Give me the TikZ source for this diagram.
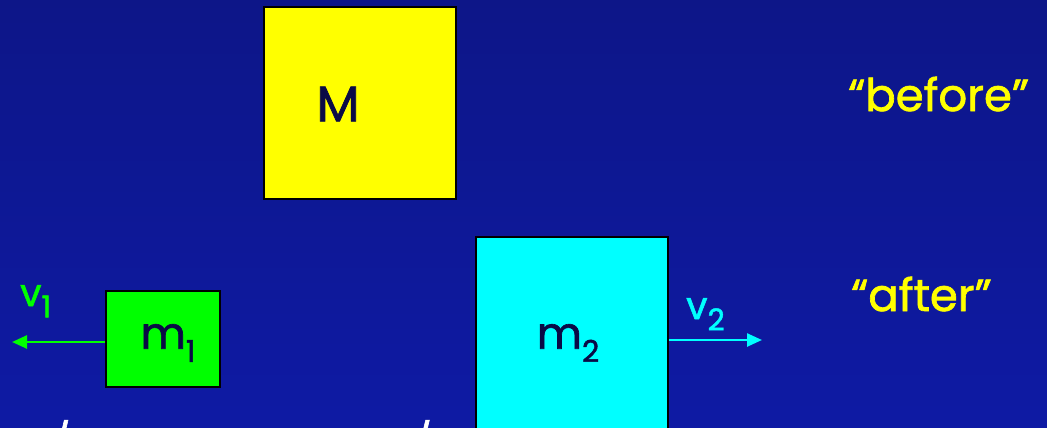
\documentclass[tikz,border=0pt]{standalone}
\usepackage{fontspec}
\setmainfont{Poppins}[FakeBold=1.5]
\usetikzlibrary{arrows.meta}
\definecolor{bgtop}{RGB}{13,22,136}
\definecolor{bgbot}{RGB}{14,26,164}
\definecolor{ink}{RGB}{10,10,70}
\definecolor{vgreen}{RGB}{0,255,0}
\definecolor{vcyan}{RGB}{0,255,255}
\definecolor{lyellow}{RGB}{255,255,0}
\tikzset{
  block/.style={draw=black, line width=2pt, inner sep=0pt, anchor=north west},
  lbl/.style={text=ink, inner sep=0pt, font=\fontsize{44}{50}\selectfont},
  quote/.style={text=lyellow, inner sep=0pt, anchor=base west, font=\fontsize{45}{50}\selectfont},
  vlbl/.style={inner sep=0pt, anchor=base west, font=\fontsize{38}{44}\selectfont},
  varrow/.style={line width=2.5pt, -{Triangle[length=15pt,width=13pt]}},
  cut/.style={text=white, inner sep=0pt, anchor=north west, font=\fontsize{40}{46}\selectfont}
}
\newcommand{\sub}[1]{\raisebox{-0.3em}{\fontsize{30}{32}\selectfont #1}}
\begin{document}
\begin{tikzpicture}[x=1pt,y=-1pt]
\useasboundingbox (0,0) rectangle (1047,428);
\shade[top color=bgtop, bottom color=bgbot] (0,0) rectangle (1047,428);
% cut-off text at the bottom
\node[cut] (c1) at (26,420) {5/8};
\node[cut] (c2) at (328,420) {03 5/8};
% before
\node[block, fill=lyellow, minimum width=192pt, minimum height=192pt] (M) at (263,6) {};
\node[lbl, font=\fontsize{50}{56}\selectfont] (Mlbl) at (338,104) {M};
\node[quote] (before) at (848,111) {“before”};
% after
\node[block, fill=vgreen, minimum width=114pt, minimum height=96pt] (m1) at (105,290) {};
\node[lbl] (m1lbl) at (168,343) {m\sub{1}};
\node[block, fill=vcyan, minimum width=192pt, minimum height=200pt] (m2) at (475,236) {};
\node[lbl] (m2lbl) at (568,343) {m\sub{2}};
\node[quote] (after) at (851,311) {“after”};
\coordinate (v1end) at (12,342);
\coordinate (v2end) at (762,340);
\draw[varrow, vgreen] (m1.west |- v1end) -- (v1end);
\draw[varrow, vcyan] (m2.east |- v2end) -- (v2end);
\node[vlbl, text=vgreen] (v1) at (20,306) {v\sub{1}};
\node[vlbl, text=vcyan] (v2) at (686,319) {v\sub{2}};
\end{tikzpicture}
\end{document}
